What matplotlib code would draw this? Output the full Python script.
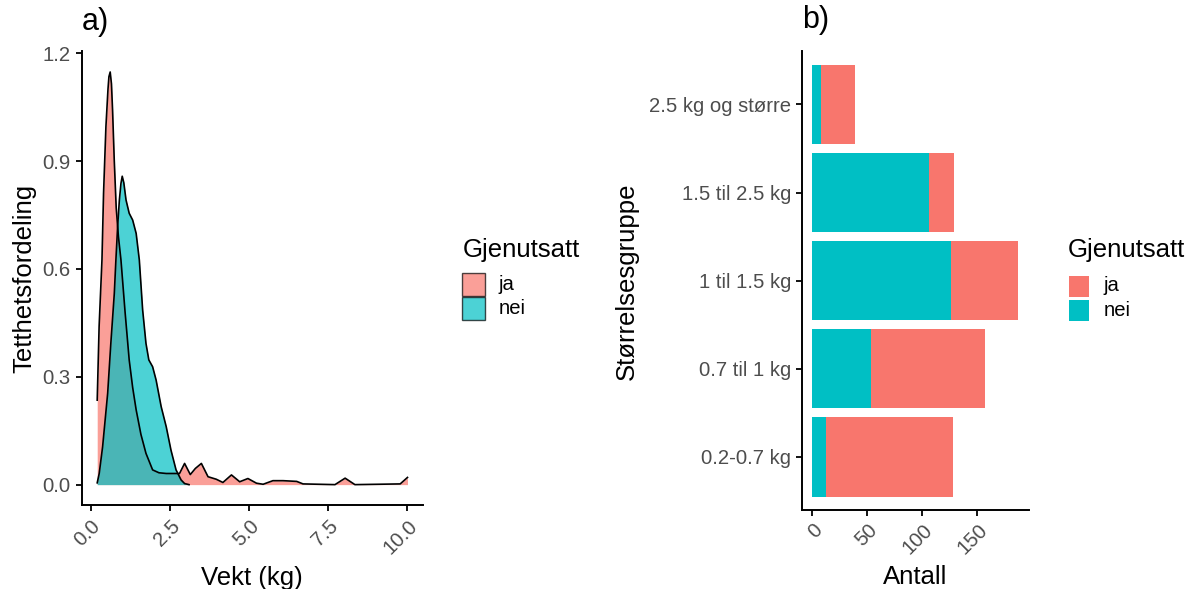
import matplotlib
matplotlib.use("Agg")
import matplotlib.pyplot as plt
from matplotlib.patches import Rectangle

plt.rcParams['font.family'] = ['Liberation Sans', 'DejaVu Sans']

# --- data ---
# a) density curves (Vekt in kg, density)
ja_x = [0.2, 0.26, 0.35, 0.40, 0.475, 0.54, 0.57, 0.61, 0.65, 0.685, 0.738, 0.80, 0.87,
        0.95, 1.08, 1.21, 1.32, 1.43, 1.58, 1.74, 1.95, 2.15, 2.38, 2.59, 2.80, 2.96,
        3.14, 3.30, 3.49, 3.70, 3.96, 4.17, 4.44, 4.70, 4.96, 5.23, 5.44, 5.75, 6.07,
        6.50, 6.70, 7.71, 8.03, 8.34, 9.77, 10.0]
ja_y = [0.235, 0.44, 0.625, 0.81, 0.996, 1.10, 1.135, 1.148, 1.115, 1.042, 0.903, 0.77, 0.69,
        0.625, 0.48, 0.347, 0.27, 0.208, 0.14, 0.087, 0.041, 0.033, 0.031, 0.031, 0.031, 0.059,
        0.028, 0.045, 0.059, 0.022, 0.015, 0.006, 0.027, 0.008, 0.017, 0.004, 0.001, 0.011, 0.011,
        0.009, 0.002, 0.0, 0.018, 0.0, 0.002, 0.02]

nei_x = [0.2, 0.263, 0.37, 0.53, 0.63, 0.74, 0.79, 0.845, 0.90, 0.95, 0.99, 1.04, 1.11, 1.21,
         1.32, 1.43, 1.53, 1.635, 1.74, 1.83, 1.95, 2.06, 2.22, 2.38, 2.53, 2.69, 2.85, 2.96, 3.1]
nei_y = [0.005, 0.031, 0.105, 0.254, 0.393, 0.532, 0.625, 0.718, 0.792, 0.838, 0.858, 0.84, 0.792,
         0.755, 0.736, 0.699, 0.625, 0.486, 0.393, 0.347, 0.328, 0.291, 0.217, 0.161, 0.096, 0.041,
         0.013, 0.003, 0.0]

# b) counts per size group
groups = ['0.2-0.7 kg', '0.7 til 1 kg', '1 til 1.5 kg', '1.5 til 2.5 kg', '2.5 kg og større']
nei_counts = [12, 53, 126, 106, 8]
ja_counts = [116, 104, 61, 23, 31]

RED = '#F8766D'
CYAN = '#00BFC4'
GREY = '#4D4D4D'

W, H = 1192, 589
fig = plt.figure(figsize=(W / 100, H / 100), dpi=100)


def fx(px):
    return px / W


def fy(py):
    return 1 - py / H


def style_axes(ax):
    for s in ['top', 'right']:
        ax.spines[s].set_visible(False)
    for s in ['left', 'bottom']:
        ax.spines[s].set_linewidth(1.4)
    ax.tick_params(length=4.2, width=1.3, color='black', labelcolor=GREY,
                   labelsize=14.6, pad=3.6)
    for lab in ax.get_xticklabels():
        lab.set_rotation(45)
        lab.set_ha('right')
        lab.set_va('top')
        lab.set_rotation_mode('anchor')


# --- a) density plot ---
ax1 = fig.add_axes([fx(81.7), fy(505.3), fx(423) - fx(81.7), fy(50.6) - fy(505.3)])
ax1.fill_between(ja_x, ja_y, 0, color=RED, alpha=0.7, lw=0)
ax1.plot(ja_x, ja_y, color='black', lw=1.2, solid_joinstyle='round')
ax1.fill_between(nei_x, nei_y, 0, color=CYAN, alpha=0.7, lw=0)
ax1.plot(nei_x, nei_y, color='black', lw=1.2, solid_joinstyle='round')
ax1.set_xlim(-0.29, 10.49)
ax1.set_ylim(-0.0575, 1.2075)
ax1.set_xticks([0, 2.5, 5, 7.5, 10])
ax1.set_xticklabels(['0.0', '2.5', '5.0', '7.5', '10.0'])
ax1.set_yticks([0, 0.3, 0.6, 0.9, 1.2])
ax1.set_yticklabels(['0.0', '0.3', '0.6', '0.9', '1.2'])
style_axes(ax1)
ax1.set_xlabel('Vekt (kg)', fontsize=18.5, va='center')
ax1.xaxis.set_label_coords(fx(252), fy(578), transform=fig.transFigure)
ax1.set_ylabel('Tetthetsfordeling', fontsize=18.5, va='center')
ax1.yaxis.set_label_coords(fx(24), fy(278), transform=fig.transFigure)
fig.text(fx(82), fy(22), 'a)', fontsize=22, ha='left', va='center')

# --- b) stacked bars ---
ax2 = fig.add_axes([fx(802), fy(509.8), fx(1028.5) - fx(802), fy(51.5) - fy(509.8)])
pos = list(range(1, len(groups) + 1))
ax2.barh(pos, nei_counts, height=0.9, color=CYAN, lw=0)
ax2.barh(pos, ja_counts, left=nei_counts, height=0.9, color=RED, lw=0)
ax2.set_yticks(pos)
ax2.set_yticklabels(groups)
ax2.set_ylim(0.4, 5.6)
ax2.set_xlim(-9.35, 196.35)
ax2.set_xticks([0, 50, 100, 150])
style_axes(ax2)
ax2.set_xlabel('Antall', fontsize=18.5, va='center')
ax2.xaxis.set_label_coords(fx(915), fy(577), transform=fig.transFigure)
ax2.set_ylabel('Størrelsesgruppe', fontsize=18.5, va='center')
ax2.yaxis.set_label_coords(fx(627), fy(281), transform=fig.transFigure)
fig.text(fx(802), fy(20), 'b)', fontsize=22, ha='left', va='center')

# --- legends ---
def draw_legend(x0, keys_top, title_y, alpha, edge, gap):
    fig.text(fx(x0), fy(title_y), 'Gjenutsatt', fontsize=18.5, ha='left', va='center')
    for i, (lab, col) in enumerate([('ja', RED), ('nei', CYAN)]):
        top = keys_top + i * 24
        r = Rectangle((fx(x0 + gap), fy(top + 23 - gap)), (22.7 - 2 * gap) / W, (23 - 2 * gap) / H,
                      transform=fig.transFigure, facecolor=col, alpha=alpha,
                      edgecolor=edge, lw=1.0 if edge != 'none' else 0)
        fig.add_artist(r)
        fig.text(fx(x0 + 36), fy(top + 11.5), lab, fontsize=14.6, ha='left', va='center')


draw_legend(462.3, 273.3, 250, 0.7, 'black', 0)
draw_legend(1067.5, 274.5, 250, 1.0, 'none', 1)

fig.savefig('out.png', dpi=100)
